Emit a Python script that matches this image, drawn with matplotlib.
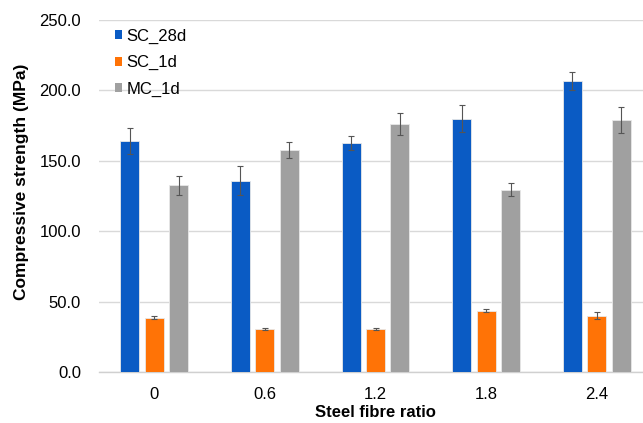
import numpy as np
import matplotlib
matplotlib.use("Agg")
import matplotlib.pyplot as plt
from matplotlib.patches import Patch

plt.rcParams['font.family'] = ['Liberation Sans', 'DejaVu Sans']

# data
fibre_ratio = ['0', '0.6', '1.2', '1.8', '2.4']
series_names = ['SC_28d', 'SC_1d', 'MC_1d']
sc_28d = [164.0, 135.8, 162.8, 179.8, 206.8]
sc_28d_err = [9.0, 10.3, 5.0, 9.5, 6.4]
sc_1d = [38.5, 30.6, 30.6, 43.4, 40.1]
sc_1d_err = [1.0, 0.5, 0.5, 1.0, 2.5]
mc_1d = [132.6, 157.8, 176.4, 129.6, 178.9]
mc_1d_err = [6.8, 5.5, 7.8, 4.7, 9.2]

colors = ['#0a5bc4', '#ff7306', '#a0a0a0']

fig = plt.figure(figsize=(6.43, 4.23), dpi=100)
ax = fig.add_axes([99 / 643, 1 - 372 / 423, 553 / 643, 352 / 423])

x = np.arange(len(fibre_ratio))
step = 0.221
width = 0.172
vals = [sc_28d, sc_1d, mc_1d]
errs = [sc_28d_err, sc_1d_err, mc_1d_err]
for i in range(3):
    ax.bar(x + (i - 1) * step, vals[i], width, color=colors[i],
           edgecolor='#e8e8e8', linewidth=0.6, zorder=3,
           yerr=errs[i], capsize=2,
           error_kw=dict(ecolor='#555555', elinewidth=0.8, capthick=0.8))

ax.set_xlim(-0.5, 4.5)
ax.set_ylim(0, 250)
ax.set_yticks(np.arange(0, 251, 50))
ax.set_yticklabels([f'{v:.1f}' for v in np.arange(0, 251, 50)])
ax.set_xticks(x)
ax.set_xticklabels(fibre_ratio)
ax.tick_params(axis='both', length=0, labelsize=12, colors='#000000')
ax.tick_params(axis='y', pad=13)
ax.tick_params(axis='x', pad=11)

ax.grid(axis='y', color='#d9d9d9', linewidth=1, zorder=0)
ax.set_axisbelow(True)
for s in ['top', 'right', 'left']:
    ax.spines[s].set_visible(False)
ax.spines['bottom'].set_color('#d0d0d0')
ax.spines['bottom'].set_linewidth(1)

fig.text(22 / 643, 1 - 182 / 423, 'Compressive strength (MPa)', rotation=90,
         ha='center', va='center', fontsize=12.5, fontweight='bold')
fig.text(375 / 643, 1 - 412 / 423, 'Steel fibre ratio',
         ha='center', va='center', fontsize=12, fontweight='bold')

handles = [Patch(facecolor=c) for c in colors]
ax.legend(handles, series_names, loc='upper left',
          bbox_to_anchor=(108 / 643, 1 - 22 / 423), bbox_transform=fig.transFigure,
          frameon=False, fontsize=12, handlelength=0.45, handleheight=0.45,
          handletextpad=0.25, labelspacing=0.68, borderaxespad=0)

fig.savefig('out.png', dpi=100)
